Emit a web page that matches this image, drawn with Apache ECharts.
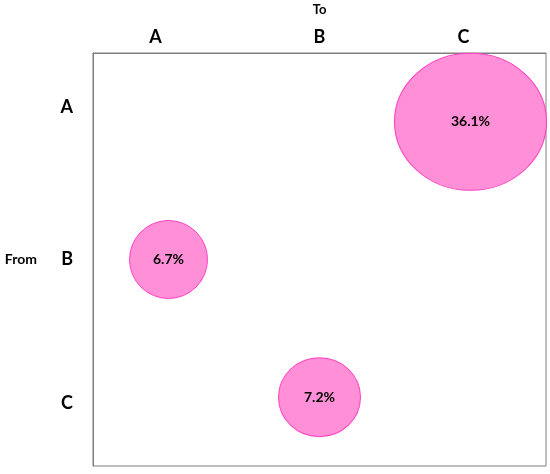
<!DOCTYPE html>
<html>
<head>
<meta charset="utf-8">
<script src="https://cdn.jsdelivr.net/npm/echarts@6/dist/echarts.min.js"></script>
<style>
  html, body { margin: 0; padding: 0; background: #fff; }
  #chart { width: 550px; height: 474px; }
</style>
</head>
<body>
<div id="chart"></div>
<script>
// categories for both axes
const toCats = ['A', 'B', 'C']
const fromCats = ['A', 'B', 'C']

// flows: from -> to, share in %
const flowFrom = ['A', 'B', 'C']
const flowTo = ['C', 'A', 'B']
const flowShare = [36.1, 6.7, 7.2]

// bubble width/height as drawn in the picture (px)
const bubbleSize = {
  'A-C': [152, 137],
  'B-A': [78, 78],
  'C-B': [82, 79],
}

const font = 'Lato, "Open Sans", sans-serif'

// the labels in the picture sit a bit off the band centres
const toLabelPad = { A: [0, 26, 0, 0], B: 0, C: [0, 14, 0, 0] }
const fromLabelStyle = { A: 'up', B: 'mid', C: 'down' }

const chart = echarts.init(document.getElementById('chart'))

const points = flowShare.map((v, i) => ({
  value: [flowTo[i], flowFrom[i], v],
  symbolSize: bubbleSize[flowFrom[i] + '-' + flowTo[i]],
}))

const labelText = { fontFamily: font, fontWeight: 'bold', fontSize: 18, color: '#000' }

chart.setOption({
  animation: false,
  grid: {
    left: 93,
    top: 53,
    right: 4,
    bottom: 8,
    outerBoundsMode: 'none',
    containLabel: false,
    show: true,
    borderColor: '#7f7f7f',
    borderWidth: 1,
  },
  xAxis: {
    type: 'category',
    position: 'top',
    data: toCats.map(c => ({ value: c, textStyle: { padding: toLabelPad[c] } })),
    name: 'To',
    nameLocation: 'middle',
    nameGap: 37,
    nameTextStyle: { fontFamily: font, fontWeight: 'bold', fontSize: 13, color: '#000' },
    axisLine: { lineStyle: { color: '#7f7f7f' } },
    axisTick: { show: false },
    splitLine: { show: false },
    axisLabel: Object.assign({ margin: 7 }, labelText),
  },
  yAxis: {
    type: 'category',
    inverse: true,
    data: fromCats,
    name: 'From',
    nameLocation: 'middle',
    nameRotate: 0,
    nameGap: 56,
    nameTextStyle: { fontFamily: font, fontWeight: 'bold', fontSize: 14, color: '#000' },
    axisLine: { lineStyle: { color: '#7f7f7f' } },
    axisTick: { show: false },
    splitLine: { show: false },
    axisLabel: Object.assign({
      margin: 20,
      formatter: v => '{' + fromLabelStyle[v] + '|' + v + '}',
      rich: {
        up: Object.assign({ padding: [0, 0, 30, 0] }, labelText),
        mid: Object.assign({}, labelText),
        down: Object.assign({ padding: [12, 0, 0, 0] }, labelText),
      },
    }, labelText),
  },
  series: [
    {
      type: 'scatter',
      data: points,
      itemStyle: {
        color: '#ff8fd6',
        borderColor: '#ff3fbf',
        borderWidth: 1,
        opacity: 1,
      },
      label: {
        show: true,
        position: 'inside',
        formatter: p => p.value[2].toFixed(1) + '%',
        fontFamily: font,
        fontWeight: 'bold',
        fontSize: 14,
        color: '#000',
      },
    },
  ],
})
</script>
</body>
</html>
